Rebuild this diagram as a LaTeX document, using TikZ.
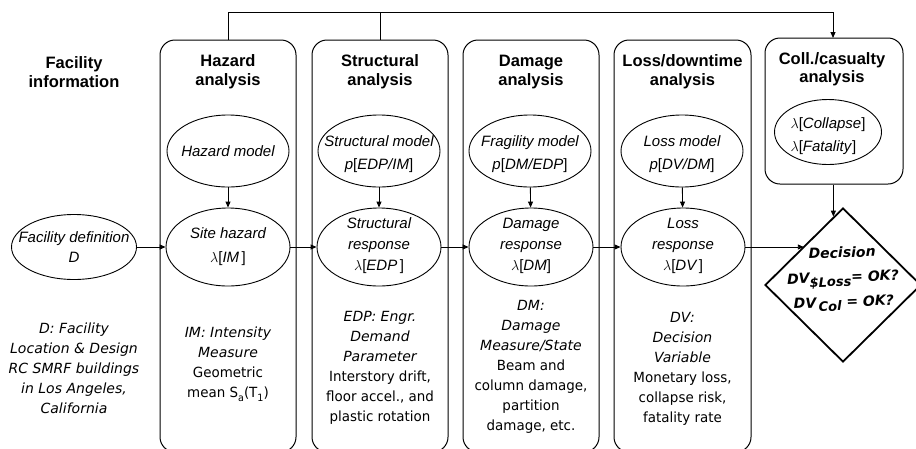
\documentclass[tikz,border=0pt]{standalone}
\usepackage{fontspec}
\setmainfont{Liberation Sans}
\newfontfamily\dvfont{DejaVu Sans}
\newfontfamily\tahfont[FakeStretch=0.96]{DejaVu Sans}
\usetikzlibrary{shapes.geometric,arrows.meta}
\newcommand\lsub[1]{\raisebox{-3.5pt}{\fontsize{10}{10}\selectfont #1}}
\newcommand\ub[1]{\textup{[}#1\textup{]}}
\newcommand\il[1]{{\dvfont\itshape #1}}
\newcommand\rl[1]{{\tahfont\upshape #1}}
\tikzset{
  panel/.style={draw, rounded corners=15pt, line width=1.0pt, minimum width=136pt, minimum height=412pt, inner sep=0pt},
  ttl/.style={align=center, font=\bfseries\fontsize{16.5}{19}\selectfont},
  ell/.style={draw, ellipse, line width=0.9pt, inner sep=0pt, minimum width=124pt, minimum height=78pt},
  topell/.style={ell, minimum width=122pt, minimum height=72pt},
  etxt/.style={align=center, inner sep=0pt, font=\itshape\fontsize{15}{21}\selectfont},
  low/.style={align=center, inner sep=0pt, font=\fontsize{14}{20}\selectfont},
  arr/.style={line width=0.9pt, -{Triangle[length=6pt,width=5pt]}},
  ln/.style={line width=0.9pt},
}
\begin{document}
\begin{tikzpicture}[x=1pt,y=-1pt]
\useasboundingbox (0,0) rectangle (916,448);
% panels
\node[panel] (hazp) at (228,246) {};
\node[panel] (strp) at (380,246) {};
\node[panel] (damp) at (531,246) {};
\node[panel, minimum width=137pt] (lossp) at (682.5,246) {};
\node[panel, minimum width=138pt, minimum height=146pt] (collp) at (834,111) {};
% titles
\node[ttl] (facT) at (74,72) {Facility\\information};
\node[ttl] (hazT) at (228,72) {Hazard\\analysis};
\node[ttl] (strT) at (380,72) {Structural\\analysis};
\node[ttl] (damT) at (531,72) {Damage\\analysis};
\node[ttl] (lossT) at (682.5,72) {Loss/downtime\\analysis};
\node[ttl, font=\bfseries\fontsize{16.5}{18}\selectfont] (collT) at (832,69) {Coll./casualty\\analysis};
% top ellipses
\node[topell] (hazm) at (228,151) {};
\node[etxt] (hazmT) at (hazm) {Hazard model};
\node[topell] (strm) at (379,151) {};
\node[etxt, font=\itshape\fontsize{15}{23}\selectfont] (strmT) at (379,154) {Structural model\\p\ub{EDP/IM}};
\node[topell] (damm) at (530,151) {};
\node[etxt, font=\itshape\fontsize{15}{23}\selectfont] (dammT) at (530,154) {Fragility model\\p\ub{DM/EDP}};
\node[topell] (lossm) at (682,151) {};
\node[etxt, font=\itshape\fontsize{15}{23}\selectfont] (lossmT) at (682,154) {Loss model\\p\ub{DV/DM}};
\node[ell, minimum width=107pt, minimum height=65pt] (colle) at (828,132) {};
\node[etxt, align=left, font=\itshape\fontsize{15}{23}\selectfont] (colleT) at (828,136) {$\lambda$\ub{Collapse}\\$\lambda$\ub{Fatality}};
% bottom ellipses
\node[ell, minimum width=125pt, minimum height=65pt] (fac) at (74,247) {};
\node[etxt, font=\itshape\fontsize{15}{20}\selectfont] (facTx) at (fac) {Facility definition\\D};
\node[ell] (site) at (228,247) {};
\node[etxt, font=\itshape\fontsize{15}{24}\selectfont] (siteT) at (site) {Site hazard\\$\lambda$\ub{IM\,}};
\node[ell] (strr) at (379,247) {};
\node[etxt] (strrT) at (379,246) {Structural\\response\\$\lambda$\ub{EDP\,}};
\node[ell] (damr) at (531,247) {};
\node[etxt] (damrT) at (531,246) {Damage\\response\\$\lambda$\ub{DM}};
\node[ell] (lossr) at (683,247) {};
\node[etxt] (lossrT) at (683,246) {Loss\\response\\$\lambda$\ub{DV\,}};
% decision
\node[draw, diamond, line width=1.8pt, inner sep=0pt, minimum width=156pt, minimum height=154pt] (dec) at (843,285) {};
\node[align=center, inner sep=0pt, rotate=2, font=\dvfont\bfseries\itshape\fontsize{14}{24.5}\selectfont] (decT) at (843,279)
  {Decision\\DV\raisebox{-4pt}{\fontsize{13}{13}\selectfont\$Loss}= OK?\\DV\,\raisebox{-4pt}{\fontsize{13}{13}\selectfont Col} = OK?};
% lower texts
\node[low] (facL) at (74,368) {\il{D: Facility}\\\il{Location \& Design}\\\il{RC SMRF buildings}\\\il{in Los Angeles,}\\\il{California}};
\node[low] (hazL) at (228,364) {\il{IM: Intensity}\\\il{Measure}\\\rl{Geometric}\\\rl{mean S\lsub{a}(T\lsub{1})}};
\node[low] (strL) at (380,368) {\il{EDP: Engr.}\\\il{Demand}\\\il{Parameter}\\\rl{Interstory drift,}\\\rl{floor accel., and}\\\rl{plastic rotation}};
\node[low] (damL) at (531,367) {\il{DM:}\\\il{Damage}\\\il{Measure/State}\\\rl{Beam and}\\\rl{column damage,}\\\rl{partition}\\\rl{damage, etc.}};
\node[low] (lossL) at (682.5,369) {\il{DV:}\\\il{Decision}\\\il{Variable}\\\rl{Monetary loss,}\\\rl{collapse risk,}\\\rl{fatality rate}};
% connectors
\coordinate (topy) at (0,12);
\draw[arr] (hazp.north) -- (hazp.north |- topy) -- (topy -| 833,0) -- (833,38);
\draw[ln] (strp.north) -- (strp.north |- topy);
\draw[arr] (hazm) -- (site);
\draw[arr] (strm) -- (strr);
\draw[arr] (damm) -- (damr);
\draw[arr] (lossm) -- (lossr);
\draw[arr] (fac.east) -- (site.west);
\draw[arr] (site.east) -- (strr.west);
\draw[arr] (strr.east) -- (damr.west);
\draw[arr] (damr.east) -- (lossr.west);
\draw[arr] (lossr.east) -- (dec.135 |- lossr.east);
\draw[arr] (dec.98.5 |- collp.south) -- (dec.98.5);
\end{tikzpicture}
\end{document}
